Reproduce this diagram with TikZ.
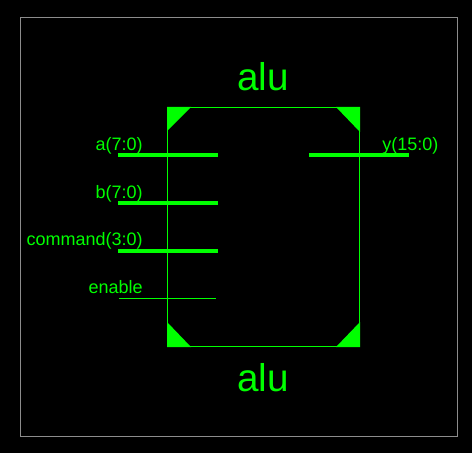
\documentclass[tikz,border=0pt]{standalone}
\usepackage{fontspec}
\setmainfont{Liberation Sans}
\definecolor{wirecol}{RGB}{0,255,0}
\definecolor{framecol}{RGB}{140,140,140}
\tikzset{
  thinwire/.style={draw=wirecol,line width=0.75pt},
  buswire/.style={draw=wirecol,line width=3pt},
  corner/.style={fill=wirecol},
  portlabel/.style={text=wirecol,font=\fontsize{13.5}{14}\selectfont,inner sep=0pt},
  titlelabel/.style={text=wirecol,font=\fontsize{29}{30}\selectfont,inner sep=0pt,anchor=base}
}
\begin{document}
\begin{tikzpicture}[x=0.75pt,y=-0.75pt]
\fill[black] (0,0) rectangle (472,453);
\useasboundingbox (0,0) rectangle (472,453);
\draw[framecol,line width=0.75pt] (20.5,17.5) rectangle (457.5,436.5);
% block and its corners
\draw[thinwire] (167.5,107.5) rectangle (359.5,346.5);
\fill[corner] (167,107) -- (191,107) -- (167,131) -- cycle;
\fill[corner] (336,107) -- (360,107) -- (360,132) -- cycle;
\fill[corner] (167,322) -- (191,347) -- (167,347) -- cycle;
\fill[corner] (360,322) -- (360,347) -- (336,347) -- cycle;
\node[titlelabel] (titletop) at (263,91) {alu};
\node[titlelabel] (titlebot) at (263,391) {alu};
% ports
\coordinate (a0) at (118,155);
\coordinate (a1) at (218,155);
\coordinate (b0) at (118,203);
\coordinate (b1) at (218,203);
\coordinate (c0) at (118,251);
\coordinate (c1) at (218,251);
\coordinate (e0) at (119,298.5);
\coordinate (e1) at (216,298.5);
\coordinate (y0) at (309,155);
\coordinate (y1) at (409,155);
\draw[buswire] (a0) -- (a1);
\draw[buswire] (b0) -- (b1);
\draw[buswire] (c0) -- (c1);
\draw[thinwire] (e0) -- (e1);
\draw[buswire] (y0) -- (y1);
\node[portlabel,anchor=base east] (alabel) at (143,151) {a(7:0)};
\node[portlabel,anchor=base east] (blabel) at (143,199) {b(7:0)};
\node[portlabel,anchor=base east] (clabel) at (143,246) {command(3:0)};
\node[portlabel,anchor=base east] (elabel) at (143,293) {enable};
\node[portlabel,anchor=base west] (ylabel) at (382,151) {y(15:0)};
\end{tikzpicture}
\end{document}
